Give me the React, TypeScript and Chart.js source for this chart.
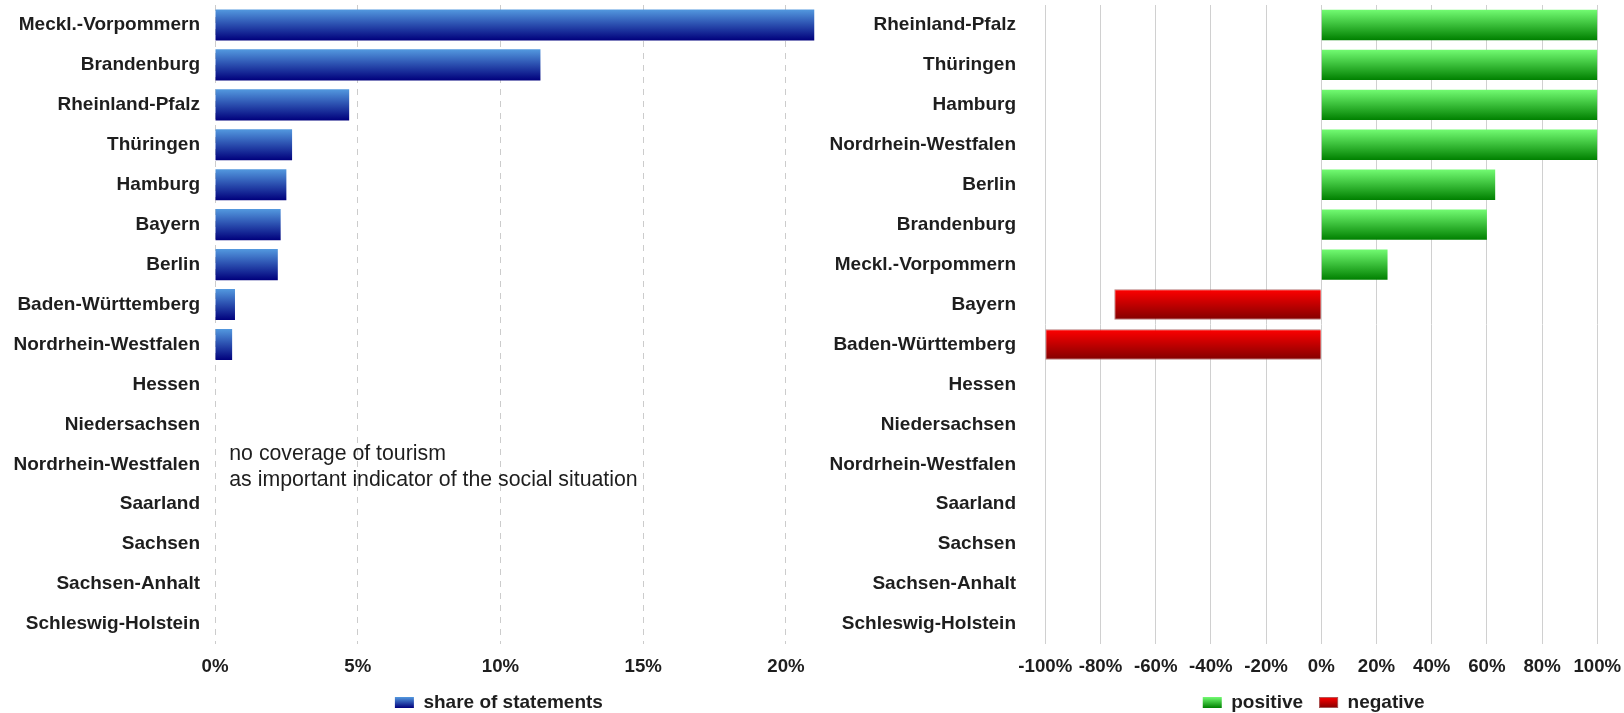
import React, { useEffect, useRef } from 'react';
import { Chart, registerables } from 'chart.js';

Chart.register(...registerables);

// ---------- data ----------
const shareLabels = [
  'Meckl.-Vorpommern', 'Brandenburg', 'Rheinland-Pfalz', 'Thüringen', 'Hamburg', 'Bayern', 'Berlin',
  'Baden-Württemberg', 'Nordrhein-Westfalen', 'Hessen', 'Niedersachsen', 'Nordrhein-Westfalen',
  'Saarland', 'Sachsen', 'Sachsen-Anhalt', 'Schleswig-Holstein',
];
const shareValues = [21.0, 11.4, 4.7, 2.7, 2.5, 2.3, 2.2, 0.7, 0.6, null, null, null, null, null, null, null];
const shareSeriesName = 'share of statements';

const toneLabels = [
  'Rheinland-Pfalz', 'Thüringen', 'Hamburg', 'Nordrhein-Westfalen', 'Berlin', 'Brandenburg',
  'Meckl.-Vorpommern', 'Bayern', 'Baden-Württemberg', 'Hessen', 'Niedersachsen', 'Nordrhein-Westfalen',
  'Saarland', 'Sachsen', 'Sachsen-Anhalt', 'Schleswig-Holstein',
];
const positiveValues = [100, 100, 100, 100, 63, 60, 24, null, null, null, null, null, null, null, null, null];
const negativeValues = [null, null, null, null, null, null, null, -75, -100, null, null, null, null, null, null, null];
const toneSeriesNames = ['positive', 'negative'];

const noteLines = ['no coverage of tourism', 'as important indicator of the social situation'];
const noteRowIndex = 11;
const noteXValue = 0.5;

// ---------- styles ----------
const FONT = '"Liberation Sans", Arial, Helvetica, sans-serif';
const TEXT = '#1e1e1e';
Chart.defaults.font.family = FONT;
Chart.defaults.color = TEXT;

const barGradientPlugin = {
  id: 'barGradient',
  beforeDatasetsDraw(chart: any) {
    const ctx = chart.ctx;
    chart.data.datasets.forEach((ds: any, i: number) => {
      const stops = ds.gradientStops;
      if (!stops) return;
      const meta = chart.getDatasetMeta(i);
      meta.data.forEach((el: any) => {
        const top = el.y - el.height / 2;
        const bottom = el.y + el.height / 2;
        if (!isFinite(top) || !isFinite(bottom) || bottom <= top) return;
        const g = ctx.createLinearGradient(0, top, 0, bottom);
        g.addColorStop(0, stops[0]);
        g.addColorStop(1, stops[1]);
        el.options = Object.assign({}, el.options, { backgroundColor: g });
      });
    });
  },
};

const legendGradientPlugin = {
  id: 'legendGradient',
  afterDraw(chart: any) {
    const lg = chart.legend;
    if (!lg || !lg.legendHitBoxes || !lg.legendItems) return;
    const ctx = chart.ctx;
    const labelOpts = lg.options.labels;
    const fontSize = labelOpts.font.size;
    const bw = labelOpts.boxWidth;
    const bh = labelOpts.boxHeight;
    lg.legendItems.forEach((item: any, i: number) => {
      const hb = lg.legendHitBoxes[i];
      const ds = chart.data.datasets[item.datasetIndex];
      if (!hb || !ds || !ds.gradientStops) return;
      const x = hb.left;
      const y = hb.top + Math.max((fontSize - bh) / 2, 0);
      const g = ctx.createLinearGradient(0, y, 0, y + bh);
      g.addColorStop(0, ds.gradientStops[0]);
      g.addColorStop(1, ds.gradientStops[1]);
      ctx.save();
      ctx.clearRect(x - 1, y - 1, bw + 2, bh + 2);
      ctx.fillStyle = g;
      ctx.fillRect(x, y, bw, bh);
      if (ds.borderWidth) {
        ctx.strokeStyle = ds.borderColor;
        ctx.lineWidth = 1;
        ctx.strokeRect(x + 0.5, y + 0.5, bw - 1, bh - 1);
      }
      ctx.restore();
    });
  },
};

function legendCenterPlugin(center: number) {
  return {
    id: 'legendCenter',
    afterLayout(chart: any) {
      const lg = chart.legend;
      if (!lg) return;
      const half = (lg.right - lg.left) / 2;
      lg.left = center - half;
      lg.right = center + half;
    },
  };
}

function notePlugin(lines: string[], rowIndex: number, xValue: number) {
  return {
    id: 'note',
    afterDatasetsDraw(chart: any) {
      const { ctx, scales } = chart;
      const x = scales.x.getPixelForValue(xValue);
      const yc = scales.y.getPixelForValue(rowIndex);
      ctx.save();
      ctx.font = `21.3px ${FONT}`;
      ctx.fillStyle = TEXT;
      ctx.textAlign = 'left';
      ctx.textBaseline = 'middle';
      lines.forEach((line, i) => ctx.fillText(line, x, yc - 10 + i * 26.3));
      ctx.restore();
    },
  };
}

const legendLabels = {
  boxWidth: 19,
  boxHeight: 11,
  padding: 16,
  color: TEXT,
  font: { size: 19, weight: 'bold' as const },
};

const X_AXIS_HEIGHT = 33;

function fixX(s: any) {
  s.height = X_AXIS_HEIGHT;
  s.paddingLeft = 0;
  s.paddingRight = 0;
}

function fixY(width: number) {
  return (s: any) => {
    s.width = width;
    s.paddingTop = 0;
    s.paddingBottom = 0;
  };
}

function ShareChart() {
  const ref = useRef<HTMLCanvasElement>(null);
  useEffect(() => {
    if (!ref.current) return;
    const chart = new Chart(ref.current, {
      type: 'bar',
      data: {
        labels: shareLabels,
        datasets: [
          {
            label: shareSeriesName,
            data: shareValues,
            backgroundColor: '#2a55b5',
            borderWidth: 0,
            barPercentage: 0.78,
            categoryPercentage: 1,
            gradientStops: ['#5399df', '#00007c'],
          } as any,
        ],
      },
      options: {
        indexAxis: 'y',
        responsive: false,
        animation: false,
        layout: { padding: { top: 5, right: 5.5, left: 0, bottom: 0 } },
        scales: {
          x: {
            type: 'linear',
            min: 0,
            max: 21,
            ticks: {
              stepSize: 5,
              includeBounds: false,
              padding: 12,
              maxRotation: 0,
              minRotation: 0,
              autoSkip: false,
              color: TEXT,
              font: { size: 18.67, weight: 'bold' },
              callback: (v: any) => `${v}%`,
            },
            grid: { color: '#cccccc', lineWidth: 1, drawTicks: false },
            border: { display: false, dash: [6, 6] },
            afterFit: fixX,
          },
          y: {
            type: 'category',
            ticks: { autoSkip: false, padding: 15, color: TEXT, font: { size: 19, weight: 'bold' } },
            grid: { display: false, drawTicks: false },
            border: { display: false },
            afterFit: fixY(215),
          },
        },
        plugins: {
          legend: { position: 'bottom', labels: legendLabels },
          tooltip: { enabled: false },
        },
      } as any,
      plugins: [
        barGradientPlugin,
        legendGradientPlugin,
        legendCenterPlugin(498.9),
        notePlugin(noteLines, noteRowIndex, noteXValue),
      ],
    });
    return () => chart.destroy();
  }, []);
  return <canvas ref={ref} width={820} height={722} style={{ display: 'block' }} />;
}

function ToneChart() {
  const ref = useRef<HTMLCanvasElement>(null);
  useEffect(() => {
    if (!ref.current) return;
    const chart = new Chart(ref.current, {
      type: 'bar',
      data: {
        labels: toneLabels,
        datasets: [
          {
            label: toneSeriesNames[0],
            data: positiveValues,
            backgroundColor: '#2fb82f',
            borderWidth: 0,
            grouped: false,
            barPercentage: 0.76,
            categoryPercentage: 1,
            gradientStops: ['#72fb72', '#008000'],
          } as any,
          {
            label: toneSeriesNames[1],
            data: negativeValues,
            backgroundColor: '#c00000',
            borderColor: 'rgba(170,100,100,0.85)',
            borderWidth: 1,
            grouped: false,
            barPercentage: 0.76,
            categoryPercentage: 1,
            gradientStops: ['#ff0000', '#820000'],
          } as any,
        ],
      },
      options: {
        indexAxis: 'y',
        responsive: false,
        animation: false,
        layout: { padding: { top: 5, right: 26.7, left: 0, bottom: 0 } },
        scales: {
          x: {
            type: 'linear',
            min: -100,
            max: 100,
            ticks: {
              stepSize: 20,
              padding: 12,
              maxRotation: 0,
              minRotation: 0,
              autoSkip: false,
              color: TEXT,
              font: { size: 18.67, weight: 'bold' },
              callback: (v: any) => `${v}%`,
            },
            grid: { color: '#d0d0d0', lineWidth: 1, drawTicks: false },
            border: { display: false },
            afterFit: fixX,
          },
          y: {
            type: 'category',
            ticks: { autoSkip: false, padding: 29.3, color: TEXT, font: { size: 19, weight: 'bold' } },
            grid: { display: false, drawTicks: false },
            border: { display: false },
            afterFit: fixY(225.3),
          },
        },
        plugins: {
          legend: { position: 'bottom', labels: legendLabels },
          tooltip: { enabled: false },
        },
      } as any,
      plugins: [barGradientPlugin, legendGradientPlugin, legendCenterPlugin(493.7)],
    });
    return () => chart.destroy();
  }, []);
  return <canvas ref={ref} width={804} height={722} style={{ display: 'block' }} />;
}

export default function App() {
  return (
    <div
      style={{
        position: 'fixed',
        left: 0,
        top: 0,
        width: 1624,
        height: 713,
        overflow: 'hidden',
        background: '#ffffff',
      }}
    >
      <div style={{ position: 'absolute', left: 0, top: 0, width: 820, height: 722 }}>
        <ShareChart />
      </div>
      <div style={{ position: 'absolute', left: 820, top: 0, width: 804, height: 722 }}>
        <ToneChart />
      </div>
    </div>
  );
}
